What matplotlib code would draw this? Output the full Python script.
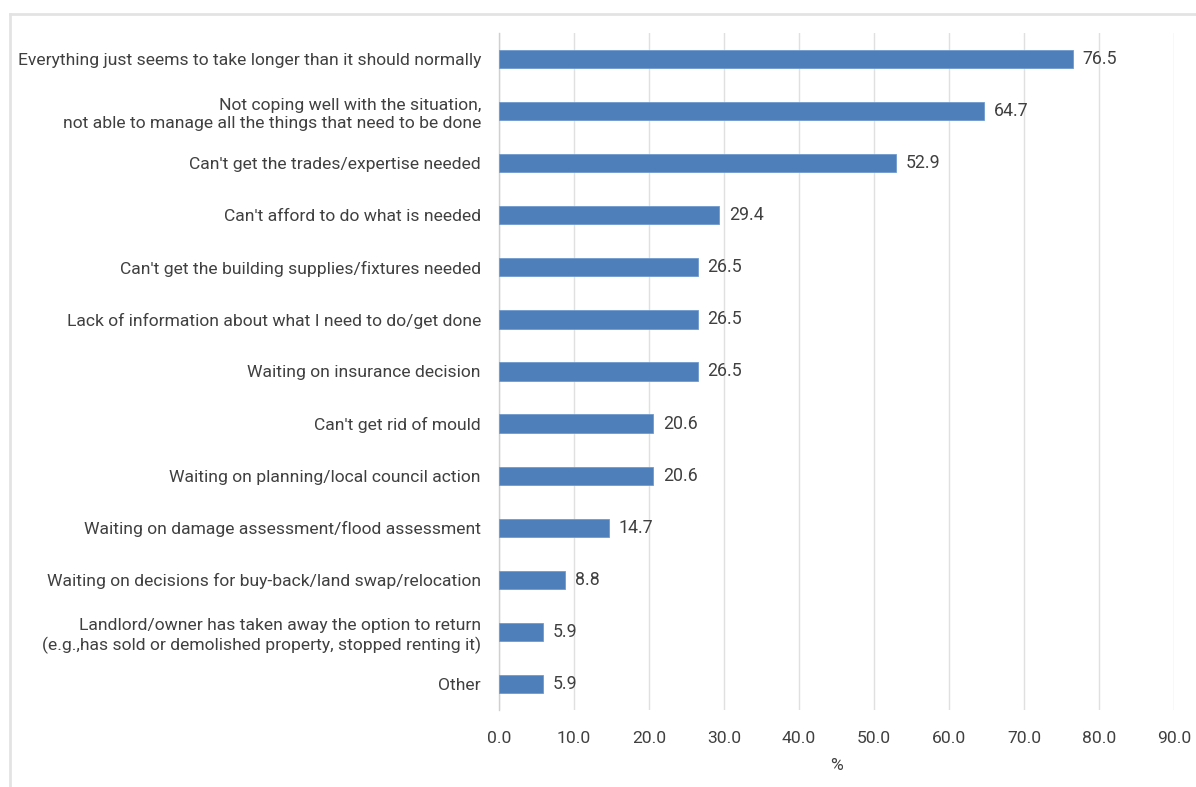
import matplotlib.pyplot as plt
from matplotlib.lines import Line2D

plt.rcParams['font.family'] = ['Roboto', 'DejaVu Sans']

labels = [
    "Everything just seems to take longer than it should normally",
    "Not coping well with the situation,\nnot able to manage all the things that need to be done",
    "Can't get the trades/expertise needed",
    "Can't afford to do what is needed",
    "Can't get the building supplies/fixtures needed",
    "Lack of information about what I need to do/get done",
    "Waiting on insurance decision",
    "Can't get rid of mould",
    "Waiting on planning/local council action",
    "Waiting on damage assessment/flood assessment",
    "Waiting on decisions for buy-back/land swap/relocation",
    "Landlord/owner has taken away the option to return\n(e.g.,has sold or demolished property, stopped renting it)",
    "Other",
]
values = [76.5, 64.7, 52.9, 29.4, 26.5, 26.5, 26.5, 20.6, 20.6, 14.7, 8.8, 5.9, 5.9]
xticks = [0, 10, 20, 30, 40, 50, 60, 70, 80, 90]

text_color = '#404040'
bar_color = '#4e7fbb'

fig = plt.figure(figsize=(11.96, 7.87), dpi=100)
ax = fig.add_axes([0.4172, 0.0979, 0.5644, 0.8602])

y = list(range(len(labels)))
ax.barh(y, values, height=0.35, color=bar_color, edgecolor='#6f9bd0', linewidth=0.6, zorder=3)
for yi, v in zip(y, values):
    ax.text(v + 1.3, yi, f"{v:.1f}", va='center', ha='left', fontsize=12.8, color=text_color)

ax.set_ylim(len(labels) - 0.5, -0.5)
ax.set_xlim(0, 90)
ax.set_yticks(y)
ax.set_yticklabels(labels, fontsize=12.6, color=text_color, linespacing=1.3)
ax.set_xticks(xticks)
ax.set_xticklabels([f"{t:.1f}" for t in xticks], fontsize=12.6, color=text_color)
ax.tick_params(axis='y', length=0, pad=13)
ax.tick_params(axis='x', length=0, pad=15)
ax.set_xlabel('%', fontsize=12.6, color=text_color, labelpad=9)

ax.grid(axis='x', color='#e0e0e0', linewidth=1.0, zorder=0)
for s in ['top', 'right', 'bottom']:
    ax.spines[s].set_visible(False)
ax.spines['left'].set_color('#d0d0d0')
ax.spines['left'].set_linewidth(1.0)

# chart area border (top and left edges)
fig.add_artist(Line2D([10 / 1196, 1], [1 - 14 / 787, 1 - 14 / 787], color='#e3e3e3', linewidth=2, transform=fig.transFigure))
fig.add_artist(Line2D([10 / 1196, 10 / 1196], [0, 1 - 14 / 787], color='#e3e3e3', linewidth=2, transform=fig.transFigure))

fig.savefig('out.png', dpi=100)
